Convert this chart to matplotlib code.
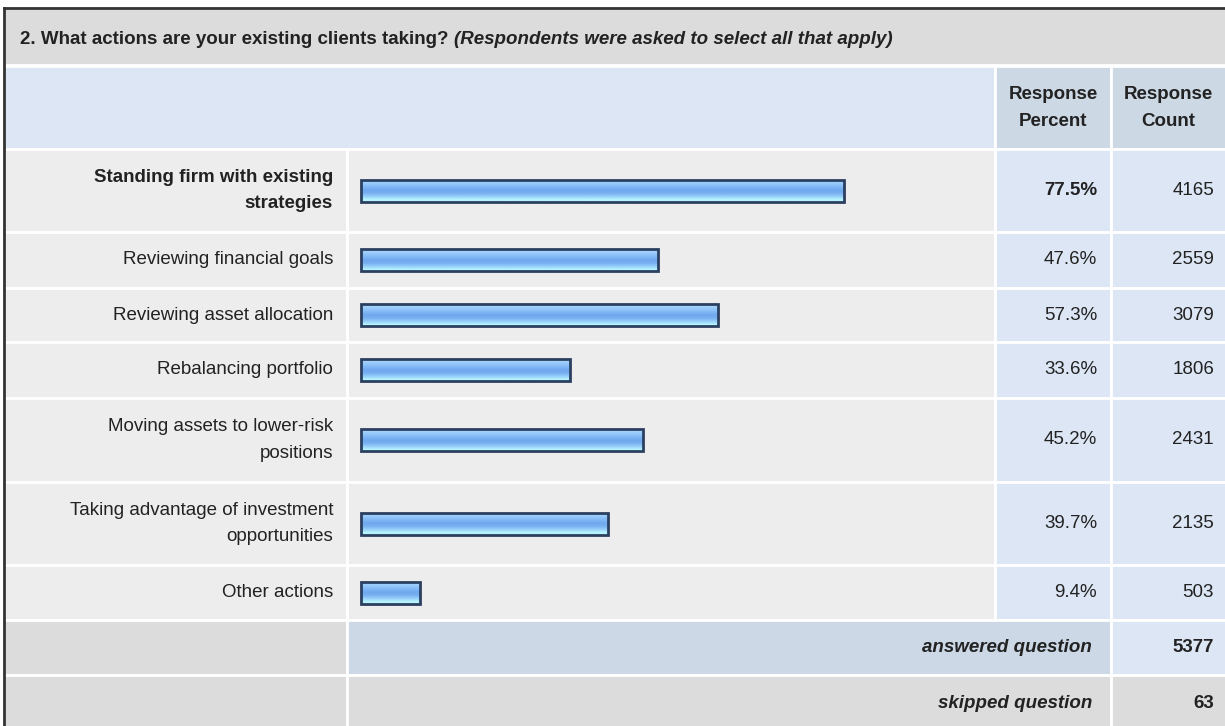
import matplotlib.pyplot as plt
import numpy as np
from matplotlib.patches import Rectangle

# survey data
answers = ['Standing firm with existing\nstrategies',
           'Reviewing financial goals',
           'Reviewing asset allocation',
           'Rebalancing portfolio',
           'Moving assets to lower-risk\npositions',
           'Taking advantage of investment\nopportunities',
           'Other actions']
percents = [77.5, 47.6, 57.3, 33.6, 45.2, 39.7, 9.4]
counts = [4165, 2559, 3079, 1806, 2431, 2135, 503]
answered = 5377
skipped = 63

# layout (pixel coords)
W, H = 1225, 726
row_edges = [149, 232, 288, 342, 398, 482, 565, 620]
col_label = 347
col_pct = 995
col_cnt = 1111
bar_left = 361
bar_full = 623  # pixels for 100%

plt.rcParams['font.family'] = ['Liberation Sans', 'DejaVu Sans']
fs = 13.5
ls = 1.7
txt = '#222222'

fig = plt.figure(figsize=(W / 100, H / 100), dpi=100)
ax = fig.add_axes([0, 0, 1, 1])
ax.set_xlim(0, W)
ax.set_ylim(H, 0)
ax.axis('off')
fig.patch.set_facecolor('white')

def cell(x0, y0, x1, y1, color):
    ax.add_patch(Rectangle((x0, y0), x1 - x0, y1 - y0, facecolor=color,
                           edgecolor='white', linewidth=2, zorder=1))

# title row
cell(4, 8, W + 5, 65, '#dcdcdc')
t1 = ax.text(20, 40, '2. What actions are your existing clients taking?', fontsize=fs,
             fontweight='bold', color=txt, va='center', zorder=3)
# italic part starts right after the plain part
fig.canvas.draw()
bb = t1.get_window_extent().transformed(ax.transData.inverted())
ax.text(bb.x1 + 6, 40, '(Respondents were asked to select all that apply)', fontsize=fs,
        fontweight='bold', style='italic', color=txt, va='center', zorder=3)

# header row
cell(4, 66, col_pct, row_edges[0], '#dce6f4')
cell(col_pct, 66, col_cnt, row_edges[0], '#cdd8e5')
cell(col_cnt, 66, W + 5, row_edges[0], '#cdd8e5')
ax.text((col_pct + col_cnt) / 2, 108, 'Response\nPercent', fontsize=fs, fontweight='bold',
        ha='center', va='center', color=txt, linespacing=ls, zorder=3)
ax.text((col_cnt + W) / 2, 108, 'Response\nCount', fontsize=fs, fontweight='bold',
        ha='center', va='center', color=txt, linespacing=ls, zorder=3)

# answer rows
centers = []
for i in range(len(answers)):
    y0, y1 = row_edges[i], row_edges[i + 1]
    centers.append((y0 + y1) / 2)
    cell(4, y0, col_label, y1, '#ededed')
    cell(col_label, y0, col_pct, y1, '#ededed')
    cell(col_pct, y0, col_cnt, y1, '#dce6f4')
    cell(col_cnt, y0, W + 5, y1, '#dce6f4')

widths = np.array(percents) / 100 * bar_full
bars = ax.barh(centers, widths, left=bar_left, height=22, facecolor='none',
               edgecolor='#2b4060', linewidth=2, zorder=4)

# glossy gradient inside each bar
grad = np.array([[168, 212, 252], [150, 200, 250], [128, 184, 246], [112, 168, 238],
                 [120, 176, 242], [150, 206, 250], [180, 244, 252]]) / 255.0
grad = grad[:, None, :]
for b in bars:
    x, y = b.get_x(), b.get_y()
    im = ax.imshow(grad, extent=(x, x + b.get_width(), y + b.get_height(), y),
                   aspect='auto', interpolation='bilinear', zorder=2)
    im.set_clip_path(b)
ax.set_xlim(0, W)
ax.set_ylim(H, 0)

for i, (lab, p, c) in enumerate(zip(answers, percents, counts)):
    bold = 'bold' if i == 0 else 'normal'
    ax.text(333, centers[i], lab, fontsize=fs, fontweight=bold, ha='right', va='center',
            multialignment='right', linespacing=ls, color=txt, zorder=3)
    ax.text(1097, centers[i], f'{p}%', fontsize=fs, fontweight=bold, ha='right',
            va='center', color=txt, zorder=3)
    ax.text(1214, centers[i], str(c), fontsize=fs, ha='right', va='center',
            color=txt, zorder=3)

# footer rows
cell(4, 620, col_label, 675, '#dcdcdc')
cell(col_label, 620, col_cnt, 675, '#ccd8e6')
cell(col_cnt, 620, W + 5, 675, '#dce6f4')
cell(4, 675, col_label, H + 5, '#dcdcdc')
cell(col_label, 675, col_cnt, H + 5, '#dcdcdc')
cell(col_cnt, 675, W + 5, H + 5, '#dcdcdc')
ax.text(1092, 648, 'answered question', fontsize=fs, fontweight='bold', style='italic',
        ha='right', va='center', color=txt, zorder=3)
ax.text(1214, 648, str(answered), fontsize=fs, fontweight='bold', ha='right',
        va='center', color=txt, zorder=3)
ax.text(1092, 703, 'skipped question', fontsize=fs, fontweight='bold', style='italic',
        ha='right', va='center', color=txt, zorder=3)
ax.text(1214, 703, str(skipped), fontsize=fs, fontweight='bold', ha='right',
        va='center', color=txt, zorder=3)

# outer border
ax.plot([4, 4], [H, 8], color='#333333', linewidth=2, zorder=5)
ax.plot([4, W], [8, 8], color='#333333', linewidth=2, zorder=5)

fig.savefig('out.png', dpi=100)
